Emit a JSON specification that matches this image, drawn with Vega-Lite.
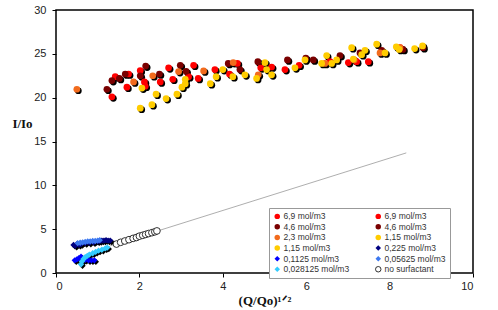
{
  "$schema": "https://vega.github.io/schema/vega-lite/v6.json",
  "width": 417,
  "height": 263,
  "autosize": "none",
  "padding": {"left": 56, "top": 10, "right": 25, "bottom": 37},
  "background": "white",
  "config": {
    "view": {"stroke": "black", "strokeWidth": 1.5},
    "axis": {"grid": false, "domain": false, "tickColor": "black", "tickSize": 4, "labelFont": "Liberation Sans", "labelFontSize": 11, "labelColor": "#222", "titleFont": "Liberation Serif", "titleFontSize": 13, "titleFontWeight": "bold", "titleColor": "#111"},
    "legend": {
      "title": null, "orient": "none", "legendX": 213, "legendY": 198, "columns": 2, "direction": "horizontal",
      "columnPadding": 23, "rowPadding": 0.6, "padding": 4,
      "strokeColor": "#999999", "fillColor": "white",
      "labelFont": "Liberation Sans", "labelFontSize": 8.5, "labelColor": "#333", "labelOffset": 2, "labelLimit": 200,
      "symbolSize": 30, "symbolStrokeWidth": 0.8
    }
  },
  "datasets": {
    "pts": [
      {"s": "6,9 mol/m3", "x": 1.34, "y": 20.1}, {"s": "6,9 mol/m3", "x": 1.42, "y": 22.4}, {"s": "6,9 mol/m3", "x": 1.70, "y": 21.2}, {"s": "6,9 mol/m3", "x": 1.74, "y": 22.7}, {"s": "6,9 mol/m3", "x": 2.02, "y": 23.1}, {"s": "6,9 mol/m3", "x": 2.12, "y": 21.8}, {"s": "6,9 mol/m3", "x": 2.14, "y": 21.3}, {"s": "6,9 mol/m3", "x": 2.50, "y": 21.8}, {"s": "6,9 mol/m3", "x": 2.70, "y": 23.4}, {"s": "6,9 mol/m3", "x": 2.80, "y": 22.1}, {"s": "6,9 mol/m3", "x": 3.30, "y": 23.7}, {"s": "6,9 mol/m3", "x": 3.18, "y": 22.4},
      {"s": "6,9 mol/m3 ", "x": 3.41, "y": 22.2}, {"s": "6,9 mol/m3 ", "x": 3.81, "y": 23.2}, {"s": "6,9 mol/m3 ", "x": 4.16, "y": 22.7}, {"s": "6,9 mol/m3 ", "x": 4.35, "y": 23.9}, {"s": "6,9 mol/m3 ", "x": 4.91, "y": 23.4}, {"s": "6,9 mol/m3 ", "x": 5.17, "y": 23.5}, {"s": "6,9 mol/m3 ", "x": 5.49, "y": 23.2}, {"s": "6,9 mol/m3 ", "x": 5.83, "y": 23.7}, {"s": "6,9 mol/m3 ", "x": 6.57, "y": 24.1}, {"s": "6,9 mol/m3 ", "x": 7.01, "y": 24.0}, {"s": "6,9 mol/m3 ", "x": 7.21, "y": 24.1}, {"s": "6,9 mol/m3 ", "x": 7.49, "y": 24.1}, {"s": "6,9 mol/m3 ", "x": 8.25, "y": 25.7},
      {"s": "4,6 mol/m3", "x": 1.22, "y": 20.96}, {"s": "4,6 mol/m3", "x": 1.34, "y": 21.95}, {"s": "4,6 mol/m3", "x": 1.52, "y": 22.2}, {"s": "4,6 mol/m3", "x": 1.66, "y": 22.7}, {"s": "4,6 mol/m3", "x": 2.02, "y": 22.5}, {"s": "4,6 mol/m3", "x": 2.15, "y": 23.6}, {"s": "4,6 mol/m3", "x": 2.48, "y": 22.7}, {"s": "4,6 mol/m3", "x": 2.98, "y": 23.7}, {"s": "4,6 mol/m3", "x": 3.12, "y": 23.0}, {"s": "4,6 mol/m3", "x": 4.13, "y": 23.9},
      {"s": "4,6 mol/m3 ", "x": 4.41, "y": 23.2}, {"s": "4,6 mol/m3 ", "x": 4.84, "y": 24.1}, {"s": "4,6 mol/m3 ", "x": 5.55, "y": 24.3}, {"s": "4,6 mol/m3 ", "x": 5.99, "y": 24.5}, {"s": "4,6 mol/m3 ", "x": 6.17, "y": 24.3}, {"s": "4,6 mol/m3 ", "x": 6.81, "y": 24.8}, {"s": "4,6 mol/m3 ", "x": 7.29, "y": 25.1}, {"s": "4,6 mol/m3 ", "x": 7.81, "y": 25.4}, {"s": "4,6 mol/m3 ", "x": 8.32, "y": 25.5}, {"s": "4,6 mol/m3 ", "x": 8.80, "y": 25.7},
      {"s": "2,3 mol/m3", "x": 0.50, "y": 20.96}, {"s": "2,3 mol/m3", "x": 1.86, "y": 21.8}, {"s": "2,3 mol/m3", "x": 2.32, "y": 22.5}, {"s": "2,3 mol/m3", "x": 2.94, "y": 22.98}, {"s": "2,3 mol/m3", "x": 3.54, "y": 23.05}, {"s": "2,3 mol/m3", "x": 4.25, "y": 24.0}, {"s": "2,3 mol/m3", "x": 4.85, "y": 22.6}, {"s": "2,3 mol/m3", "x": 6.45, "y": 23.9}, {"s": "2,3 mol/m3", "x": 7.15, "y": 24.3}, {"s": "2,3 mol/m3", "x": 7.77, "y": 25.1}, {"s": "2,3 mol/m3", "x": 8.25, "y": 25.7},
      {"s": "1,15 mol/m3", "x": 2.02, "y": 18.8}, {"s": "1,15 mol/m3", "x": 2.30, "y": 19.2}, {"s": "1,15 mol/m3", "x": 2.40, "y": 20.4}, {"s": "1,15 mol/m3", "x": 2.64, "y": 19.9}, {"s": "1,15 mol/m3", "x": 2.90, "y": 20.4}, {"s": "1,15 mol/m3", "x": 3.02, "y": 21.2}, {"s": "1,15 mol/m3", "x": 3.10, "y": 22.1}, {"s": "1,15 mol/m3", "x": 3.10, "y": 21.6}, {"s": "1,15 mol/m3", "x": 3.70, "y": 21.6}, {"s": "1,15 mol/m3", "x": 3.84, "y": 22.4}, {"s": "1,15 mol/m3", "x": 4.00, "y": 23.2}, {"s": "1,15 mol/m3", "x": 4.24, "y": 22.4}, {"s": "1,15 mol/m3", "x": 4.53, "y": 22.6}, {"s": "1,15 mol/m3", "x": 4.81, "y": 22.2}, {"s": "1,15 mol/m3", "x": 5.01, "y": 24.0}, {"s": "1,15 mol/m3", "x": 2.06, "y": 21.1},
      {"s": "1,15 mol/m3 ", "x": 5.05, "y": 23.2}, {"s": "1,15 mol/m3 ", "x": 5.17, "y": 22.6}, {"s": "1,15 mol/m3 ", "x": 5.73, "y": 23.4}, {"s": "1,15 mol/m3 ", "x": 5.97, "y": 24.3}, {"s": "1,15 mol/m3 ", "x": 6.37, "y": 23.9}, {"s": "1,15 mol/m3 ", "x": 6.49, "y": 24.8}, {"s": "1,15 mol/m3 ", "x": 6.61, "y": 23.9}, {"s": "1,15 mol/m3 ", "x": 6.73, "y": 24.3}, {"s": "1,15 mol/m3 ", "x": 7.09, "y": 25.7}, {"s": "1,15 mol/m3 ", "x": 7.13, "y": 24.4}, {"s": "1,15 mol/m3 ", "x": 7.33, "y": 24.9}, {"s": "1,15 mol/m3 ", "x": 7.41, "y": 25.4}, {"s": "1,15 mol/m3 ", "x": 7.69, "y": 26.1}, {"s": "1,15 mol/m3 ", "x": 7.89, "y": 25.1}, {"s": "1,15 mol/m3 ", "x": 8.16, "y": 25.8}, {"s": "1,15 mol/m3 ", "x": 8.23, "y": 25.5}, {"s": "1,15 mol/m3 ", "x": 8.60, "y": 25.6}, {"s": "1,15 mol/m3 ", "x": 8.79, "y": 25.9},
      {"s": " 0,225 mol/m3", "x": 0.42, "y": 3.2}, {"s": " 0,225 mol/m3", "x": 0.46, "y": 3.1}, {"s": " 0,225 mol/m3", "x": 0.50, "y": 3.3}, {"s": " 0,225 mol/m3", "x": 0.55, "y": 3.2}, {"s": " 0,225 mol/m3", "x": 0.60, "y": 3.3}, {"s": " 0,225 mol/m3", "x": 0.70, "y": 3.4}, {"s": " 0,225 mol/m3", "x": 0.80, "y": 3.45}, {"s": " 0,225 mol/m3", "x": 0.90, "y": 3.5}, {"s": " 0,225 mol/m3", "x": 1.00, "y": 3.6}, {"s": " 0,225 mol/m3", "x": 1.05, "y": 3.65}, {"s": " 0,225 mol/m3", "x": 1.10, "y": 3.7}, {"s": " 0,225 mol/m3", "x": 1.15, "y": 3.7}, {"s": " 0,225 mol/m3", "x": 1.20, "y": 3.75}, {"s": " 0,225 mol/m3", "x": 1.25, "y": 3.7}, {"s": " 0,225 mol/m3", "x": 1.30, "y": 3.7},
      {"s": "0,1125 mol/m3", "x": 0.45, "y": 1.45}, {"s": "0,1125 mol/m3", "x": 0.50, "y": 1.55}, {"s": "0,1125 mol/m3", "x": 0.55, "y": 1.7}, {"s": "0,1125 mol/m3", "x": 0.60, "y": 1.85}, {"s": "0,1125 mol/m3", "x": 0.65, "y": 1.6}, {"s": "0,1125 mol/m3", "x": 0.70, "y": 1.5}, {"s": "0,1125 mol/m3", "x": 0.78, "y": 1.45}, {"s": "0,1125 mol/m3", "x": 0.85, "y": 1.45}, {"s": "0,1125 mol/m3", "x": 0.92, "y": 1.45},
      {"s": "0,05625 mol/m3", "x": 0.52, "y": 3.4}, {"s": "0,05625 mol/m3", "x": 0.58, "y": 3.45}, {"s": "0,05625 mol/m3", "x": 0.64, "y": 3.5}, {"s": "0,05625 mol/m3", "x": 0.70, "y": 3.55}, {"s": "0,05625 mol/m3", "x": 0.76, "y": 3.6}, {"s": "0,05625 mol/m3", "x": 0.82, "y": 3.6}, {"s": "0,05625 mol/m3", "x": 0.88, "y": 3.65}, {"s": "0,05625 mol/m3", "x": 0.94, "y": 3.65}, {"s": "0,05625 mol/m3", "x": 1.00, "y": 3.7}, {"s": "0,05625 mol/m3", "x": 1.05, "y": 3.75},
      {"s": "0,028125 mol/m3", "x": 0.60, "y": 1.0}, {"s": "0,028125 mol/m3", "x": 0.62, "y": 1.3}, {"s": "0,028125 mol/m3", "x": 0.66, "y": 1.6}, {"s": "0,028125 mol/m3", "x": 0.70, "y": 1.8}, {"s": "0,028125 mol/m3", "x": 0.75, "y": 1.95}, {"s": "0,028125 mol/m3", "x": 0.80, "y": 2.1}, {"s": "0,028125 mol/m3", "x": 0.88, "y": 2.25}, {"s": "0,028125 mol/m3", "x": 0.95, "y": 2.4}, {"s": "0,028125 mol/m3", "x": 1.02, "y": 2.55}, {"s": "0,028125 mol/m3", "x": 1.10, "y": 2.65}, {"s": "0,028125 mol/m3", "x": 1.18, "y": 2.8}, {"s": "0,028125 mol/m3", "x": 1.23, "y": 2.9},
      {"s": "no surfactant", "x": 1.45, "y": 3.3}, {"s": "no surfactant", "x": 1.55, "y": 3.5}, {"s": "no surfactant", "x": 1.65, "y": 3.65}, {"s": "no surfactant", "x": 1.75, "y": 3.8}, {"s": "no surfactant", "x": 1.85, "y": 3.95}, {"s": "no surfactant", "x": 1.93, "y": 4.05}, {"s": "no surfactant", "x": 2.00, "y": 4.2}, {"s": "no surfactant", "x": 2.08, "y": 4.3}, {"s": "no surfactant", "x": 2.15, "y": 4.4}, {"s": "no surfactant", "x": 2.22, "y": 4.5}, {"s": "no surfactant", "x": 2.30, "y": 4.6}, {"s": "no surfactant", "x": 2.37, "y": 4.7}, {"s": "no surfactant", "x": 2.42, "y": 4.8}
    ],
    "fit": [{"x": 1.3, "y": 3.1}, {"x": 8.4, "y": 13.7}]
  },
  "layer": [
    {
      "data": {"name": "fit"},
      "mark": {"type": "line", "color": "#999999", "strokeWidth": 0.8},
      "encoding": {
        "x": {"field": "x", "type": "quantitative", "scale": {"domain": [0, 10], "nice": false}, "axis": {"values": [0, 2, 4, 6, 8, 10], "title": "(Q/Qo)¹ᐟ²", "titlePadding": 3, "labelPadding": 3}},
        "y": {"field": "y", "type": "quantitative", "scale": {"domain": [0, 30], "nice": false}, "axis": {"values": [0, 5, 10, 15, 20, 25, 30], "title": "I/Io", "titleAngle": 0, "titleAlign": "center", "titleBaseline": "middle", "titleX": -34, "titleY": 113, "labelPadding": 6}}
      }
    },
    {
      "data": {"name": "pts"},
      "transform": [{"filter": "indexof(['no surfactant',' 0,225 mol/m3','0,1125 mol/m3','0,05625 mol/m3','0,028125 mol/m3'], datum.s) < 0"}],
      "mark": {"type": "point", "filled": true, "shape": "circle", "size": 45, "color": "black", "opacity": 1, "xOffset": 1.5, "yOffset": 1.5},
      "encoding": {"x": {"field": "x", "type": "quantitative"}, "y": {"field": "y", "type": "quantitative"}}
    },
    {
      "data": {"name": "pts"},
      "transform": [{"filter": "indexof([' 0,225 mol/m3','0,1125 mol/m3','0,05625 mol/m3','0,028125 mol/m3'], datum.s) >= 0"}],
      "mark": {"type": "point", "filled": true, "shape": "diamond", "size": 40, "color": "black", "opacity": 1, "xOffset": 1.5, "yOffset": 1.5},
      "encoding": {"x": {"field": "x", "type": "quantitative"}, "y": {"field": "y", "type": "quantitative"}}
    },
    {
      "data": {"name": "pts"},
      "mark": {"type": "point", "opacity": 1, "strokeWidth": 0.8},
      "encoding": {
        "x": {"field": "x", "type": "quantitative"},
        "y": {"field": "y", "type": "quantitative"},
        "size": {"condition": {"test": "indexof([' 0,225 mol/m3','0,1125 mol/m3','0,05625 mol/m3','0,028125 mol/m3'], datum.s) >= 0", "value": 40}, "value": 45},
        "fill": {
          "field": "s", "type": "nominal",
          "scale": {
            "domain": ["6,9 mol/m3", "6,9 mol/m3 ", "4,6 mol/m3", "4,6 mol/m3 ", "2,3 mol/m3", "1,15 mol/m3 ", "1,15 mol/m3", " 0,225 mol/m3", "0,1125 mol/m3", "0,05625 mol/m3", "0,028125 mol/m3", "no surfactant"],
            "range": ["#ff0000", "#ff0000", "#7a0000", "#7a0000", "#f26b1d", "#ffcc00", "#ffcc00", "#000080", "#0000ff", "#3c78f0", "#33ccff", "#ffffff"]
          }
        },
        "stroke": {
          "field": "s", "type": "nominal",
          "scale": {
            "domain": ["6,9 mol/m3", "6,9 mol/m3 ", "4,6 mol/m3", "4,6 mol/m3 ", "2,3 mol/m3", "1,15 mol/m3 ", "1,15 mol/m3", " 0,225 mol/m3", "0,1125 mol/m3", "0,05625 mol/m3", "0,028125 mol/m3", "no surfactant"],
            "range": ["transparent", "transparent", "transparent", "transparent", "transparent", "transparent", "transparent", "transparent", "transparent", "transparent", "transparent", "#000000"]
          }
        },
        "shape": {
          "field": "s", "type": "nominal",
          "scale": {
            "domain": ["6,9 mol/m3", "6,9 mol/m3 ", "4,6 mol/m3", "4,6 mol/m3 ", "2,3 mol/m3", "1,15 mol/m3 ", "1,15 mol/m3", " 0,225 mol/m3", "0,1125 mol/m3", "0,05625 mol/m3", "0,028125 mol/m3", "no surfactant"],
            "range": ["circle", "circle", "circle", "circle", "circle", "circle", "circle", "diamond", "diamond", "diamond", "diamond", "circle"]
          }
        }
      }
    }
  ]
}
